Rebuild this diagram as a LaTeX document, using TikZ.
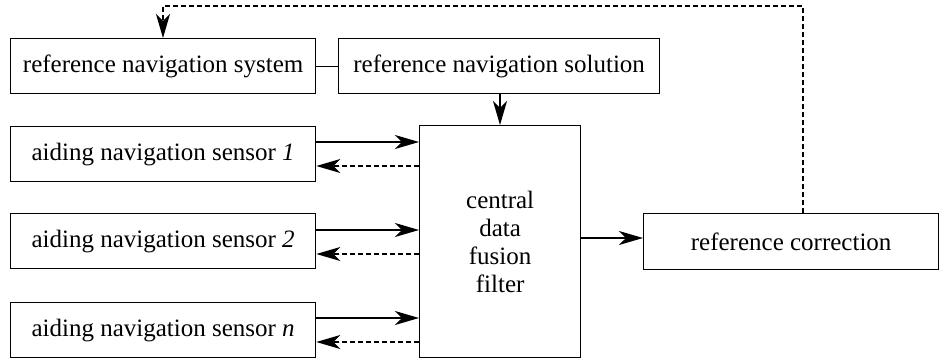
\documentclass[tikz,border=0pt]{standalone}
\usepackage{fontspec}
\setmainfont{Liberation Serif}
\newfontfamily\boxfont{Liberation Serif}
\usetikzlibrary{arrows.meta}
\begin{document}
\begin{tikzpicture}[x=1pt,y=-1pt,
  blk/.style={draw,line width=1.3pt,inner sep=0pt,anchor=north west,font=\boxfont\fontsize{25}{28}\selectfont},
  flow/.style={line width=1.3pt,-{Stealth[length=24pt,width=14pt,inset=7pt]}},
  back/.style={flow,dashed,dash pattern=on 5pt off 3pt}]
\useasboundingbox (0,0) rectangle (939,359);
\node[blk,minimum width=305pt,minimum height=55pt] (rns) at (10,38) {reference navigation system};
\node[blk,minimum width=321pt,minimum height=55pt] (sol) at (338,38) {reference navigation solution};
\node[blk,minimum width=305pt,minimum height=55pt] (s1) at (10,126) {aiding navigation sensor \textit{1}};
\node[blk,minimum width=305pt,minimum height=55pt] (s2) at (10,213) {aiding navigation sensor \textit{2}};
\node[blk,minimum width=305pt,minimum height=55pt] (sn) at (10,302) {aiding navigation sensor \textit{n}};
\node[blk,minimum width=161pt,minimum height=232pt,align=center] (cf) at (419,125) {central\\data\\fusion\\filter};
\node[blk,minimum width=295pt,minimum height=56pt] (rc) at (643,213) {reference correction};
% links
\draw[line width=1.3pt] (rns.east) -- (sol.west);
\draw[flow] (sol.south -| 500,0) -- (cf.north -| 500,0);
\foreach \s/\y in {s1/142,s2/230,sn/318}{
  \draw[flow] (\s.east |- 0,\y) -- (cf.west |- 0,\y);
  \draw[back] (cf.west |- 0,\y+24) -- (\s.east |- 0,\y+24);
}
\draw[flow] (cf.east |- 0,238) -- (rc.west |- 0,238);
\coordinate (up) at (803,6);
\draw[back] (rc.north -| up) -- (up) -- (163,6) -- (rns.north -| 163,0);
\end{tikzpicture}
\end{document}
